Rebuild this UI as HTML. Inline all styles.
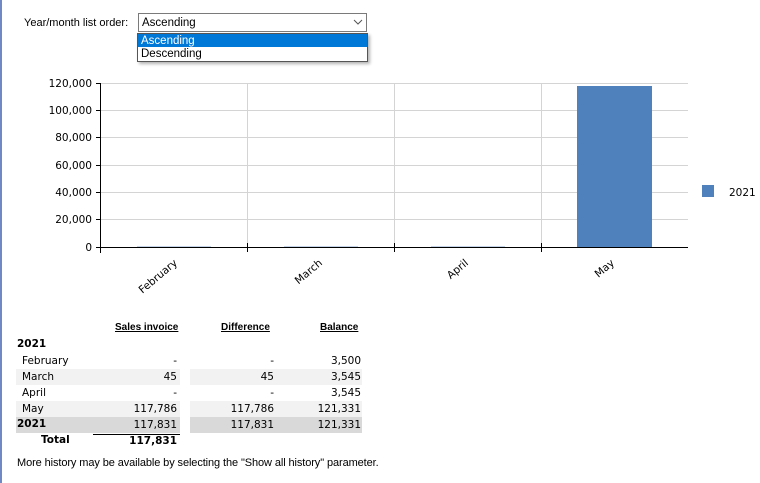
<!DOCTYPE html>
<html><head><meta charset="utf-8"><style>
body{margin:0;width:760px;height:483px;background:#fff;overflow:hidden;font-family:"DejaVu Sans",sans-serif;font-size:10.5px;color:#000;position:relative}
.a{position:absolute;white-space:nowrap}
.n{line-height:16px}
</style></head><body>
<div class="a" style="left:0;top:0;width:2px;height:483px;background:#7088c4"></div>
<div class="a" style="left:24px;top:17px;font-family:'Liberation Sans',sans-serif;font-size:11px">Year/month list order:</div>
<div class="a" style="left:138px;top:13px;width:229px;height:19px;border:1px solid #7a7a7a;box-sizing:border-box;background:#fff"></div>
<div class="a" style="left:142px;top:17px;font-family:'Liberation Sans',sans-serif;font-size:11.5px">Ascending</div>
<svg class="a" style="left:353px;top:19px" width="10" height="6"><path d="M1 1L5 5L9 1" fill="none" stroke="#555"/></svg>
<div class="a" style="left:137px;top:33px;width:231px;height:29px;border:1px solid #555;box-sizing:border-box;background:#fff;box-shadow:2px 2px 3px rgba(0,0,0,.3)"></div>
<div class="a" style="left:138px;top:34px;width:229px;height:13px;background:#0078d7"></div>
<div class="a" style="left:141px;top:34px;color:#fff;line-height:14px;font-family:'Liberation Sans',sans-serif;font-size:11.5px">Ascending</div>
<div class="a" style="left:141px;top:47px;line-height:14px;font-family:'Liberation Sans',sans-serif;font-size:11.5px">Descending</div>
<svg class="a" style="left:0;top:0" width="760" height="310" font-family="DejaVu Sans, sans-serif" font-size="10.5">
<g stroke="#d4d4d4" stroke-width="1">
<line x1="100" x2="688" y1="83.5" y2="83.5"/><line x1="100" x2="688" y1="110.5" y2="110.5"/><line x1="100" x2="688" y1="137.5" y2="137.5"/><line x1="100" x2="688" y1="165.5" y2="165.5"/><line x1="100" x2="688" y1="192.5" y2="192.5"/><line x1="100" x2="688" y1="219.5" y2="219.5"/>
<line x1="247.5" x2="247.5" y1="83" y2="247"/><line x1="394.5" x2="394.5" y1="83" y2="247"/><line x1="541.5" x2="541.5" y1="83" y2="247"/>
</g>
<rect x="577" y="86" width="75" height="161" fill="#4f81bd"/>
<g fill="#c5d3e8"><rect x="137" y="246" width="74" height="1"/><rect x="284" y="246" width="74" height="1"/><rect x="431" y="246" width="74" height="1"/></g>
<g stroke="#000"><line x1="100.5" x2="100.5" y1="83" y2="253"/><line x1="100" x2="688" y1="247.5" y2="247.5"/>
<line x1="96" x2="100" y1="83.5" y2="83.5"/><line x1="96" x2="100" y1="110.5" y2="110.5"/><line x1="96" x2="100" y1="137.5" y2="137.5"/><line x1="96" x2="100" y1="165.5" y2="165.5"/><line x1="96" x2="100" y1="192.5" y2="192.5"/><line x1="96" x2="100" y1="219.5" y2="219.5"/><line x1="96" x2="100" y1="247.5" y2="247.5"/>
<line x1="247.5" x2="247.5" y1="243" y2="252"/><line x1="394.5" x2="394.5" y1="243" y2="252"/><line x1="541.5" x2="541.5" y1="243" y2="252"/></g>
<g text-anchor="end"><text x="92" y="87">120,000</text><text x="92" y="114">100,000</text><text x="92" y="141">80,000</text><text x="92" y="169">60,000</text><text x="92" y="196">40,000</text><text x="92" y="223">20,000</text><text x="92" y="251">0</text>
<text transform="translate(178,264) rotate(-40)">February</text><text transform="translate(323,264) rotate(-40)">March</text><text transform="translate(469,264) rotate(-40)">April</text><text transform="translate(615,264) rotate(-40)">May</text></g>
<rect x="702" y="185" width="12" height="12" fill="#4f81bd"/>
<text x="729" y="196">2021</text>
</svg>
<div class="a" style="left:16px;top:369px;width:164px;height:16px;background:#f2f2f2"></div>
<div class="a" style="left:190px;top:369px;width:172px;height:16px;background:#f2f2f2"></div>
<div class="a" style="left:16px;top:401px;width:164px;height:16px;background:#f2f2f2"></div>
<div class="a" style="left:190px;top:401px;width:172px;height:16px;background:#f2f2f2"></div>
<div class="a" style="left:16px;top:417px;width:164px;height:16px;background:#d9d9d9"></div>
<div class="a" style="left:190px;top:417px;width:172px;height:16px;background:#d9d9d9"></div>
<div class="a" style="left:93px;top:434px;width:87px;height:1px;background:#000"></div>
<div class="a" style="left:115px;top:322px;font-weight:bold;text-decoration:underline;font-size:10px;font-family:'Liberation Sans',sans-serif">Sales invoice</div>
<div class="a" style="left:221px;top:322px;font-weight:bold;text-decoration:underline;font-size:10px;font-family:'Liberation Sans',sans-serif">Difference</div>
<div class="a" style="left:320px;top:322px;font-weight:bold;text-decoration:underline;font-size:10px;font-family:'Liberation Sans',sans-serif">Balance</div>
<div class="a" style="left:17px;top:338px;font-weight:bold">2021</div>
<div class="a n" style="left:22px;top:353px">February<br>March<br>April<br>May</div>
<div class="a" style="left:17px;top:418px;font-weight:bold">2021</div>
<div class="a" style="left:41px;top:434px;font-weight:bold">Total</div>
<div class="a n" style="right:583px;top:353px;text-align:right">-<br>45<br>-<br>117,786<br>117,831<br><b>117,831</b></div>
<div class="a n" style="right:486px;top:353px;text-align:right">-<br>45<br>-<br>117,786<br>117,831</div>
<div class="a n" style="right:399px;top:353px;text-align:right">3,500<br>3,545<br>3,545<br>121,331<br>121,331</div>
<div class="a" style="left:17px;top:457px;font-size:11px;font-family:'Liberation Sans',sans-serif;letter-spacing:-0.1px">More history may be available by selecting the "Show all history" parameter.</div>
</body></html>
